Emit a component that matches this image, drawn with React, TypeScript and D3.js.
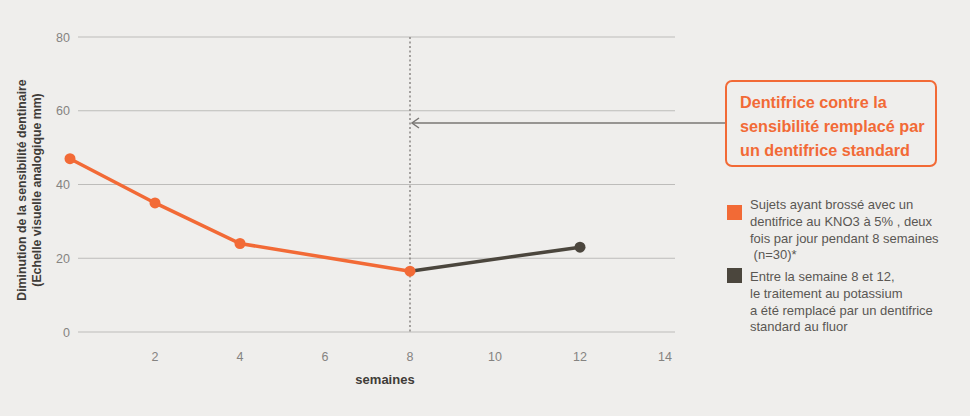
import { useEffect, useRef } from 'react';
import * as d3 from 'd3';

// données
const semainesKNO3 = [0, 2, 4, 8];
const valeursKNO3 = [47, 35, 24, 16.5];
const semainesFluor = [8, 12];
const valeursFluor = [16.5, 23];
const xTicks = [2, 4, 6, 8, 10, 12, 14];
const yTicks = [0, 20, 40, 60, 80];
const semaineChangement = 8;
const calloutLines = ['Dentifrice contre la', 'sensibilité remplacé par', 'un dentifrice standard'];
const legende1 = ['Sujets ayant brossé avec un', 'dentifrice au KNO3 à 5% , deux', 'fois par jour pendant 8 semaines', ' (n=30)*'];
const legende2 = ['Entre la semaine 8 et 12,', 'le traitement au potassium', 'a été remplacé par un dentifrice', 'standard au fluor'];
const yTitre = ['Diminution de la sensibilité dentinaire', '(Echelle visuelle analogique mm)'];

const ORANGE = '#f26a36';
const FONCE = '#4b463d';
const FONT = '"Liberation Sans", Arial, sans-serif';

const App: any = () => {
  const svgRef = useRef<any>(null);

  useEffect(() => {
    const svg = d3.select(svgRef.current);
    svg.selectAll('*').remove();

    svg.append('rect').attr('width', 970).attr('height', 416).attr('fill', '#efeeec');

    const x = d3.scaleLinear().domain([0, 14]).range([70, 665]);
    const y = d3.scaleLinear().domain([0, 80]).range([332, 37]);

    // grille + graduations Y
    yTicks.forEach((t) => {
      svg.append('line')
        .attr('x1', 78).attr('x2', 675)
        .attr('y1', y(t)).attr('y2', y(t))
        .attr('stroke', '#bdbcba').attr('stroke-width', 1);
      svg.append('text')
        .attr('x', 70).attr('y', y(t) + 4.5)
        .attr('text-anchor', 'end')
        .attr('font-family', FONT).attr('font-size', 12.5)
        .attr('fill', '#858381')
        .text(t);
    });

    // graduations X
    xTicks.forEach((t) => {
      svg.append('text')
        .attr('x', x(t)).attr('y', 361)
        .attr('text-anchor', 'middle')
        .attr('font-family', FONT).attr('font-size', 12.5)
        .attr('fill', '#858381')
        .text(t);
    });

    svg.append('text')
      .attr('x', 385).attr('y', 384)
      .attr('text-anchor', 'middle')
      .attr('font-family', FONT).attr('font-size', 13).attr('font-weight', 'bold')
      .attr('fill', '#3f3c38')
      .text('semaines');

    // titre Y
    yTitre.forEach((l, i) => {
      svg.append('text')
        .attr('transform', `translate(${26 + i * 15},190) rotate(-90)`)
        .attr('text-anchor', 'middle')
        .attr('font-family', FONT).attr('font-size', 12.3).attr('font-weight', 'bold')
        .attr('fill', '#3f3c38')
        .text(l);
    });

    // ligne pointillée verticale
    svg.append('line')
      .attr('x1', x(semaineChangement)).attr('x2', x(semaineChangement))
      .attr('y1', y(80)).attr('y2', y(0) + 2)
      .attr('stroke', '#8a8784').attr('stroke-width', 1.5)
      .attr('stroke-dasharray', '2,2.5');

    // flèche vers la ligne
    const ay = 123;
    const ax = x(semaineChangement) + 2;
    svg.append('line')
      .attr('x1', ax).attr('x2', 725)
      .attr('y1', ay).attr('y2', ay)
      .attr('stroke', '#7a7774').attr('stroke-width', 1.5);
    svg.append('path')
      .attr('d', `M${ax + 7},${ay - 5} L${ax},${ay} L${ax + 7},${ay + 5}`)
      .attr('fill', 'none')
      .attr('stroke', '#7a7774').attr('stroke-width', 1.5);

    // encadré
    svg.append('rect')
      .attr('x', 726).attr('y', 81).attr('width', 210).attr('height', 85)
      .attr('rx', 6)
      .attr('fill', 'none').attr('stroke', ORANGE).attr('stroke-width', 2);
    calloutLines.forEach((l, i) => {
      svg.append('text')
        .attr('x', 740).attr('y', 108 + i * 24)
        .attr('font-family', FONT).attr('font-size', 16.2).attr('font-weight', 'bold')
        .attr('fill', ORANGE)
        .text(l);
    });

    // légende
    const legendes = [
      { couleur: ORANGE, lignes: legende1, carre: 205, texte: 209 },
      { couleur: FONCE, lignes: legende2, carre: 268, texte: 281 },
    ];
    legendes.forEach((lg) => {
      svg.append('rect')
        .attr('x', 727).attr('y', lg.carre)
        .attr('width', 15).attr('height', 15)
        .attr('fill', lg.couleur);
      lg.lignes.forEach((l, i) => {
        svg.append('text')
          .attr('x', 750).attr('y', lg.texte + i * 16.8)
          .attr('font-family', FONT).attr('font-size', 13)
          .attr('fill', '#5a5753')
          .attr('xml:space', 'preserve')
          .text(l);
      });
    });

    // séries
    const line = d3.line<[number, number]>()
      .x((d) => x(d[0]))
      .y((d) => y(d[1]));

    const fluor: [number, number][] = semainesFluor.map((s, i) => [s, valeursFluor[i]]);
    const kno3: [number, number][] = semainesKNO3.map((s, i) => [s, valeursKNO3[i]]);

    svg.append('path')
      .attr('d', line(fluor))
      .attr('fill', 'none').attr('stroke', FONCE).attr('stroke-width', 3.5);
    svg.append('path')
      .attr('d', line(kno3))
      .attr('fill', 'none').attr('stroke', ORANGE).attr('stroke-width', 3.5);

    svg.selectAll('circle.f')
      .data(fluor.slice(1))
      .enter().append('circle')
      .attr('cx', (d) => x(d[0])).attr('cy', (d) => y(d[1]))
      .attr('r', 5.5).attr('fill', FONCE);
    svg.selectAll('circle.k')
      .data(kno3)
      .enter().append('circle')
      .attr('cx', (d) => x(d[0])).attr('cy', (d) => y(d[1]))
      .attr('r', 5.5).attr('fill', ORANGE);
  }, []);

  return (
    <svg
      ref={svgRef}
      width={970}
      height={416}
      style={{ position: 'absolute', left: 0, top: 0 }}
    />
  );
};

export default App;
